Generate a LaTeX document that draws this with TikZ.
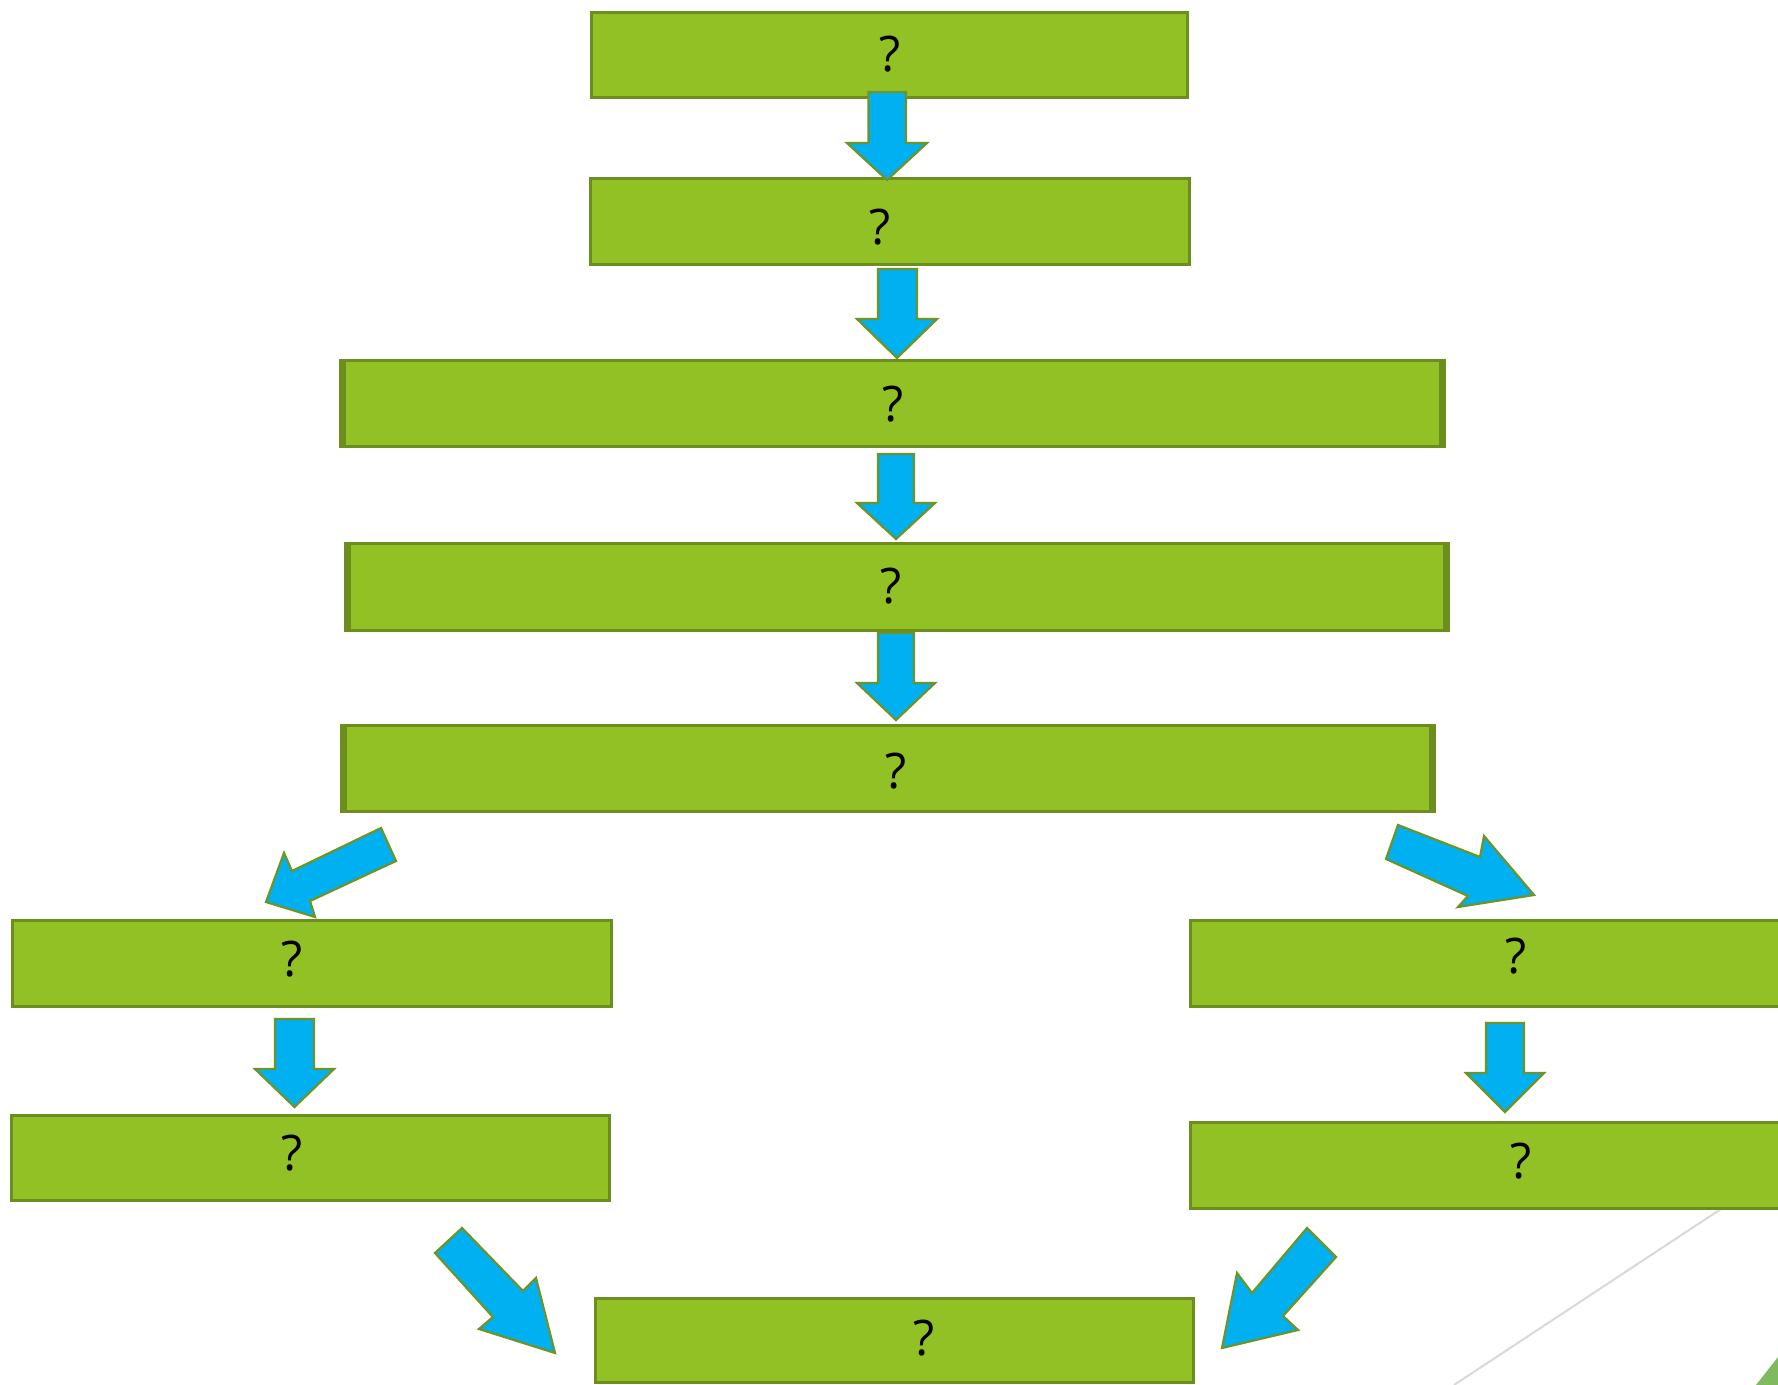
\documentclass[tikz,border=0pt]{standalone}
\usepackage{fontspec}
\setmainfont{Open Sans}
\definecolor{boxfill}{HTML}{92C126}
\definecolor{boxline}{HTML}{6B8E1E}
\definecolor{arrfill}{HTML}{00B0F0}
\definecolor{arrline}{HTML}{6F9426}
\definecolor{greyline}{HTML}{D9D9D9}
\definecolor{cornergreen}{HTML}{7FBA5E}
\tikzset{
  greenbox/.style={fill=boxfill, draw=boxline, line width=1.5pt},
  sideband/.style={fill=boxline, draw=none},
  blockarrow/.style={fill=arrfill, draw=arrline, line width=1.1pt, line join=miter},
  qlabel/.style={inner sep=0pt, font=\fontsize{24.5}{28}\selectfont, text=black},
}
\begin{document}
\begin{tikzpicture}[x=0.5pt,y=-0.5pt]
\useasboundingbox (0,0) rectangle (1778,1385);
\clip (0,0) rectangle (1778,1385);
\fill[white] (0,0) rectangle (1778,1385);

% background decoration
\draw[greyline, line width=1pt] (1730,1203) -- (1454,1385);
\fill[cornergreen] (1778,1357) -- (1756,1385) -- (1778,1385) -- cycle;

% boxes
\draw[greenbox] (591.5,12.5) rectangle (1187.5,97.5);
\draw[greenbox] (590.5,178.5) rectangle (1189.5,264.5);
\draw[greenbox] (340.5,360.5) rectangle (1444.5,446.5);
\fill[sideband] (339,359) rectangle (346,448);
\fill[sideband] (1439,359) rectangle (1446,448);
\draw[greenbox] (345.5,543.5) rectangle (1448.5,630.5);
\fill[sideband] (344,542) rectangle (351,632);
\fill[sideband] (1443,542) rectangle (1450,632);
\draw[greenbox] (341.5,725.5) rectangle (1434.5,811.5);
\fill[sideband] (340,724) rectangle (347,813);
\fill[sideband] (1429,724) rectangle (1436,813);
\draw[greenbox] (12.5,920.5) rectangle (611.5,1006.5);
\draw[greenbox] (11.5,1115.5) rectangle (609.5,1200.5);
\draw[greenbox] (1190.5,920.5) rectangle (1792,1006.5);
\draw[greenbox] (1190.5,1122.5) rectangle (1792,1208.5);
\draw[greenbox] (595.5,1298.5) rectangle (1193.5,1382.5);

% labels
\node[qlabel] (t1) at (890,54) {?};
\node[qlabel] (t2) at (880,227) {?};
\node[qlabel] (t3) at (893,404) {?};
\node[qlabel] (t4) at (891,586) {?};
\node[qlabel] (t5) at (896,771) {?};
\node[qlabel] (t6) at (292,959) {?};
\node[qlabel] (t7) at (292,1153) {?};
\node[qlabel] (t8) at (1516,956) {?};
\node[qlabel] (t9) at (1521,1161) {?};
\node[qlabel] (t10) at (924,1338) {?};

% vertical block arrows
\draw[blockarrow] (868.5,92) -- (906,92) -- (906,143) -- (927,143) -- (887,180) -- (847,143) -- (868.5,143) -- cycle;
\draw[blockarrow] (878,269) -- (917,269) -- (917,319) -- (937,319) -- (897,358) -- (857,319) -- (878,319) -- cycle;
\draw[blockarrow] (878,454) -- (914,454) -- (914,503) -- (935,503) -- (896,539) -- (857,503) -- (878,503) -- cycle;
\draw[blockarrow] (878,633) -- (914,633) -- (914,683) -- (935,683) -- (896,720) -- (857,683) -- (878,683) -- cycle;
\draw[blockarrow] (275,1019) -- (314,1019) -- (314,1069) -- (334,1069) -- (294.5,1107) -- (255,1069) -- (275,1069) -- cycle;
\draw[blockarrow] (1486,1023) -- (1524,1023) -- (1524,1073) -- (1544,1073) -- (1505,1112) -- (1466,1073) -- (1486,1073) -- cycle;

% diagonal block arrows
\draw[blockarrow] (381,828) -- (396,861) -- (310,901) -- (315,917) -- (266,902) -- (284,853) -- (292,871) -- cycle;
\draw[blockarrow] (1398,825) -- (1480,857) -- (1484,836) -- (1534,895) -- (1458,907) -- (1468,896) -- (1386,859) -- cycle;
\draw[blockarrow] (462,1228) -- (523,1291) -- (536,1278) -- (555,1353) -- (479,1329) -- (493,1317) -- (435,1253) -- cycle;
\draw[blockarrow] (1307,1228) -- (1336,1257) -- (1283,1316) -- (1298,1330) -- (1222,1348) -- (1237,1273) -- (1252,1293) -- cycle;
\end{tikzpicture}
\end{document}
